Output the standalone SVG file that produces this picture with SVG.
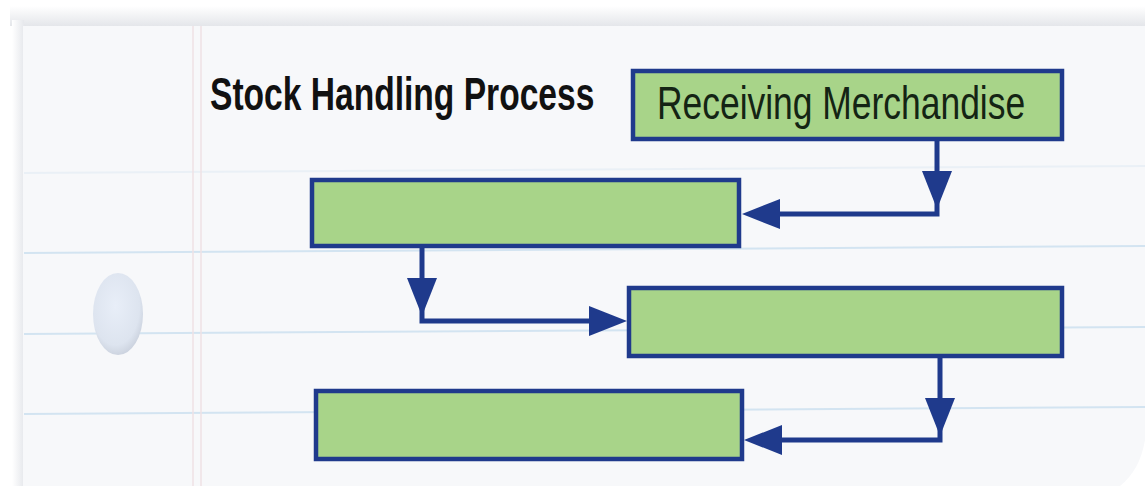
<svg xmlns="http://www.w3.org/2000/svg" width="1145" height="486" viewBox="0 0 1145 486">
<style>
.box{fill:#a8d489;stroke:#1f3a8c;stroke-width:4.5}
.conn{fill:none;stroke:#1f3a8c;stroke-width:5}
.head{fill:#1f3a8c}
.rule{stroke:#d3e4f1;stroke-width:2}
.margin{stroke:#efe2e4;stroke-width:1.5}
.title{font-family:"Liberation Sans",Arial,sans-serif;font-weight:bold;font-size:46px;fill:#111}
.label{font-family:"Liberation Sans",Arial,sans-serif;font-size:46px;fill:#142414}
</style>
<defs>
<linearGradient id="topShadow" x1="0" y1="0" x2="0" y2="1">
<stop offset="0" stop-color="#ffffff"/>
<stop offset="1" stop-color="#e4e6ea"/>
</linearGradient>
<linearGradient id="leftShadow" x1="0" y1="0" x2="1" y2="0">
<stop offset="0" stop-color="#ffffff"/>
<stop offset="1" stop-color="#e6e8ec"/>
</linearGradient>
<radialGradient id="hole" cx="0.45" cy="0.4" r="0.6">
<stop offset="0" stop-color="#e8eef8"/>
<stop offset="0.8" stop-color="#dde4ef"/>
<stop offset="1" stop-color="#cdd4e0"/>
</radialGradient>
<path id="ah" d="M0,0 L-38,-15 L-38,15 Z"/>
</defs>
<rect x="0" y="0" width="1145" height="486" fill="#ffffff"/>
<g id="paper">
<rect x="10" y="6" width="1135" height="20" fill="url(#topShadow)"/>
<rect x="12" y="20" width="12" height="466" fill="url(#leftShadow)"/>
<path d="M23,26 H1145 V440 Q1140,470 1120,486 H23 Z" fill="#f7f8fa"/>
<line class="rule" x1="24" y1="173" x2="1145" y2="166" opacity="0.35"/>
<line class="rule" x1="24" y1="253" x2="1145" y2="246"/>
<line class="rule" x1="24" y1="334" x2="1145" y2="327"/>
<line class="rule" x1="24" y1="414" x2="1145" y2="407"/>
<line class="margin" x1="193" y1="26" x2="193" y2="486"/>
<line class="margin" x1="201" y1="26" x2="201" y2="486"/>
<ellipse cx="118" cy="314" rx="25" ry="41" fill="url(#hole)"/>
</g>
<g id="title">
<text class="title" transform="translate(210,110) scale(0.73,1)">Stock Handling Process</text>
</g>
<g id="connectors">
<path class="conn" d="M937,140 V214 H760"/>
<use href="#ah" class="head" transform="translate(937,209) rotate(90)"/>
<use href="#ah" class="head" transform="translate(742,214) rotate(180)"/>
<path class="conn" d="M422,247 V321 H610"/>
<use href="#ah" class="head" transform="translate(422,316) rotate(90)"/>
<use href="#ah" class="head" transform="translate(627,321)"/>
<path class="conn" d="M940,357 V440 H762"/>
<use href="#ah" class="head" transform="translate(940,436) rotate(90)"/>
<use href="#ah" class="head" transform="translate(744,440) rotate(180)"/>
</g>
<g id="node-receiving">
<rect class="box" x="633" y="71" width="429" height="68"/>
<text class="label" transform="translate(657,119) scale(0.77,1)">Receiving Merchandise</text>
</g>
<g id="node-2">
<rect class="box" x="312" y="180" width="427" height="66"/>
</g>
<g id="node-3">
<rect class="box" x="629" y="288" width="433" height="68"/>
</g>
<g id="node-4">
<rect class="box" x="316" y="391" width="426" height="68"/>
</g>
</svg>
